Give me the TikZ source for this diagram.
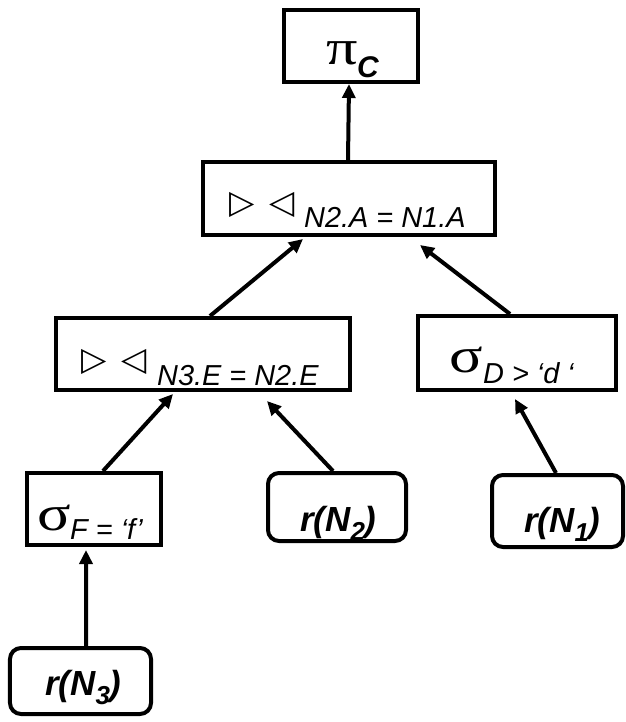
\documentclass[tikz,border=0pt]{standalone}
\usepackage{fontspec}
\usepackage{graphicx}
\setmainfont{Liberation Sans}
\newfontfamily\grk{Liberation Serif}
\newfontfamily\shapesfont{DejaVu Sans}
\usetikzlibrary{arrows.meta,calc}

\newcommand{\joinsym}{{\fontsize{33}{33}\shapesfont ▷\hspace{15bp}◁}}
\newcommand{\condtext}[1]{{\fontsize{29}{29}\selectfont\itshape #1}}
\newcommand{\greek}[1]{\scalebox{1.25}[1]{\fontsize{50}{50}\grk #1}}
\newcommand{\relname}[1]{{\fontsize{35}{35}\selectfont\bfseries\itshape r(N\raisebox{-9bp}{\fontsize{26}{26}\selectfont #1})}}

\begin{document}
\begin{tikzpicture}[x=1bp,y=-1bp,
  opbox/.style={draw, line width=4bp, inner sep=0pt},
  relbox/.style={opbox, rounded corners=11bp},
  flow/.style={line width=4bp, -{Triangle[length=14bp,width=13bp]}},
  lbl/.style={inner sep=0pt, anchor=base west}]
  \useasboundingbox (0,0) rectangle (626,722);

  % operator boxes
  \node[opbox, minimum width=134bp, minimum height=72bp] (pi) at (351,46) {};
  \node[opbox, minimum width=292bp, minimum height=73bp] (j1) at (349,198.5) {};
  \node[opbox, minimum width=294bp, minimum height=72bp] (j2) at (203,354) {};
  \node[opbox, minimum width=198bp, minimum height=74bp] (sd) at (517,353) {};
  \node[opbox, minimum width=134bp, minimum height=72bp] (sf) at (94,509) {};

  % relation leaves
  \node[relbox, minimum width=138bp, minimum height=68bp] (rn2) at (337,507) {};
  \node[relbox, minimum width=131bp, minimum height=72bp] (rn1) at (557.5,511) {};
  \node[relbox, minimum width=141bp, minimum height=66bp] (rn3) at (80.5,681) {};

  % labels
  \node[lbl] (piG) at (326,65) {\greek{π}};
  \node[lbl] (piC) at (357,78) {{\fontsize{30}{30}\selectfont\bfseries\itshape C}};

  \node[lbl] (j1b) at (229,213) {\joinsym};
  \node[lbl] (j1c) at (304,227) {\condtext{N2.A = N1.A}};

  \node[lbl] (j2b) at (81,370) {\joinsym};
  \node[lbl] (j2c) at (157,385) {\condtext{N3.E = N2.E}};

  \node[lbl] (sdG) at (449,372) {\greek{σ}};
  \node[lbl] (sdc) at (483,383) {\condtext{D > ‘d\hspace{8bp}‘}};

  \node[lbl] (sfG) at (37,530) {\greek{σ}};
  \node[lbl] (sfc) at (70,539) {\condtext{F = ‘f’}};

  \node[lbl] (rn2t) at (300,531) {\relname{2}};
  \node[lbl] (rn1t) at (524,532) {\relname{1}};
  \node[lbl] (rn3t) at (45,695) {\relname{3}};

  % data flow
  \draw[flow] ([xshift=-1bp]j1.north) -- ([xshift=-2bp]pi.south);
  \draw[flow] ([xshift=7bp]j2.north) -- ([xshift=-46bp,yshift=-2bp]j1.south);
  \draw[flow] ([xshift=-7bp]sd.north) -- ([xshift=71bp,yshift=-8bp]j1.south);
  \draw[flow] ([xshift=9bp]sf.north) -- ([xshift=-30bp,yshift=-2bp]j2.south);
  \draw[flow] ([xshift=-4bp]rn2.north) -- ([xshift=64bp,yshift=-9bp]j2.south);
  \draw[flow] ([xshift=-1.5bp]rn1.north) -- ([xshift=-2bp,yshift=-7bp]sd.south);
  \draw[flow] ([xshift=5.5bp]rn3.north) -- ([xshift=-8bp,yshift=-3bp]sf.south);
\end{tikzpicture}
\end{document}
